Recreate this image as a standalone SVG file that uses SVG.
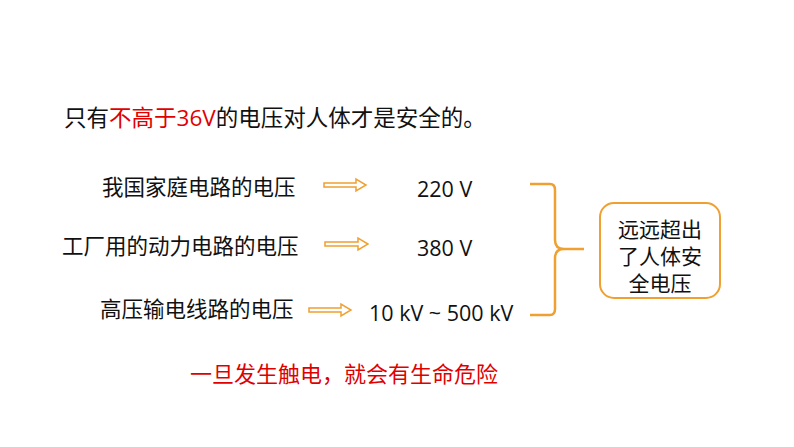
<svg xmlns="http://www.w3.org/2000/svg" width="794" height="447" viewBox="0 0 794 447">
<style>
text{font-family:"Open Sans","Noto Sans CJK SC",sans-serif;fill:#111}
.r{fill:#e00000}
.arr{fill:#fff;stroke:#f0a030;stroke-width:1.5}
</style>
<rect width="794" height="447" fill="#fff"/>
<g id="title"><text x="64" y="126" font-size="22.5">只有<tspan class="r">不高于36V</tspan>的电压对人体才是安全的。</text></g>
<g id="row1"><text x="102" y="195" font-size="21.5">我国家庭电路的电压</text><text x="417" y="197" font-size="21.5">220 V</text></g>
<g id="row2"><text x="62" y="254" font-size="21.5">工厂用的动力电路的电压</text><text x="417" y="256" font-size="21.5">380 V</text></g>
<g id="row3"><text x="100" y="317" font-size="21.5">高压输电线路的电压</text><text x="369" y="321" font-size="21.5">10 kV ~ 500 kV</text></g>
<g id="connectors">
<path class="arr" d="M324,183 h32 v-4 l10,6 l-10,6 v-4 h-32z"/>
<path class="arr" d="M325,242 h33 v-4 l10,6 l-10,6 v-4 h-33z"/>
<path class="arr" d="M309,308 h32 v-4 l10,6 l-10,6 v-4 h-32z"/>
<path d="M530,184 h20 q5,0 5,6 v50 q0,9 9,9 h20 h-20 q-9,0 -9,9 v51 q0,6 -5,6 h-20" fill="none" stroke="#f0a030" stroke-width="2.5"/>
</g>
<g id="box"><rect x="600" y="203" width="120" height="95" rx="14" fill="#fff" stroke="#f0a030" stroke-width="2"/>
<text x="660" y="237" font-size="21" text-anchor="middle">远远超出</text>
<text x="660" y="264" font-size="21" text-anchor="middle">了人体安</text>
<text x="660" y="291" font-size="21" text-anchor="middle">全电压</text></g>
<g id="note"><text class="r" x="190" y="382" font-size="22">一旦发生触电，就会有生命危险</text></g>
</svg>
